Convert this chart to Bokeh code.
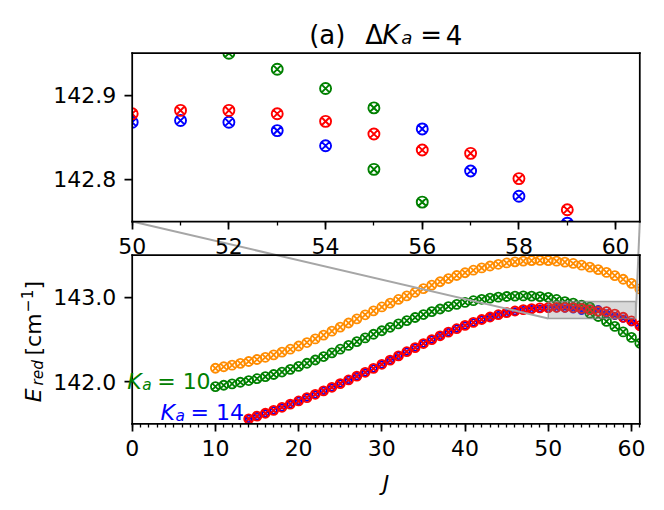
import math
import numpy as np
from bokeh.plotting import figure
from bokeh.models import (Range1d, FixedTicker, LinearAxis, NumeralTickFormatter, Label)
from bokeh.embed import file_html
from bokeh.resources import INLINE

# ---------------- data ----------------
J_orange = list(range(10, 62))
E_orange = [142.159, 142.177, 142.196, 142.217, 142.239, 142.263, 142.289, 142.318, 142.350, 142.385,
            142.423, 142.464, 142.507, 142.552, 142.599, 142.647, 142.696, 142.745, 142.793, 142.840,
            142.886, 142.931, 142.975, 143.017, 143.060, 143.103, 143.145, 143.185, 143.223, 143.259,
            143.292, 143.322, 143.349, 143.372, 143.392, 143.408, 143.421, 143.430, 143.436, 143.438,
            143.436, 143.429, 143.418, 143.402, 143.382, 143.358, 143.329, 143.296, 143.258, 143.215,
            143.166, 143.100]

J_green = list(range(10, 56)) + [55] + list(range(56, 62))
E_green = [141.941, 141.957, 141.974, 141.993, 142.013, 142.035, 142.059, 142.085, 142.114, 142.146,
           142.181, 142.218, 142.257, 142.298, 142.341, 142.385, 142.430, 142.475, 142.519, 142.562,
           142.604, 142.645, 142.685, 142.724, 142.761, 142.796, 142.830, 142.862, 142.891, 142.917,
           142.940, 142.960, 142.977, 142.991, 143.002, 143.010, 143.015, 143.017, 143.015, 143.009,
           142.999, 142.975, 142.950, 142.931, 142.908, 142.885, 142.812, 142.773, 142.715, 142.655,
           142.590, 142.525, 142.455]

J_red = list(range(14, 62))
E_red = [141.558, 141.591, 141.625, 141.660, 141.696, 141.733, 141.771, 141.810, 141.850, 141.891,
         141.933, 141.976, 142.020, 142.065, 142.111, 142.158, 142.206, 142.255, 142.305, 142.355,
         142.404, 142.452, 142.499, 142.544, 142.587, 142.628, 142.667, 142.703, 142.737, 142.767,
         142.794, 142.818, 142.838, 142.855, 142.867, 142.875, 142.878, 142.882, 142.882, 142.878,
         142.869, 142.854, 142.835, 142.831, 142.801, 142.764, 142.722, 142.665]

J_blue = list(range(14, 55)) + list(range(56, 62))
E_blue = [141.558, 141.591, 141.625, 141.660, 141.696, 141.733, 141.771, 141.810, 141.850, 141.891,
          141.933, 141.976, 142.020, 142.065, 142.111, 142.158, 142.206, 142.255, 142.305, 142.355,
          142.404, 142.452, 142.499, 142.544, 142.587, 142.628, 142.667, 142.703, 142.737, 142.767,
          142.790, 142.812, 142.832, 142.848, 142.859, 142.865, 142.868, 142.870, 142.868, 142.858,
          142.840, 142.860, 142.810, 142.780, 142.748, 142.705, 142.650]

main_xticks = [0, 10, 20, 30, 40, 50, 60]
main_xminor = list(range(0, 62))
main_yticks = [142.0, 143.0]
inset_xticks = [50, 52, 54, 56, 58, 60]
inset_xminor = list(range(50, 61))
inset_yticks = [142.8, 142.9]

XM = (0.0, 61.0)        # main J range
YM = (141.5, 143.5)     # main E range
XI = (50.0, 60.5)       # inset J range
YI = (142.75, 142.95)   # inset E range

# ---------------- style / layout (canvas pixels) ----------------
ORANGE, GREEN, BLUE, RED = "#ff8c00", "#008000", "#0000ff", "#ff0000"
FONT = "DejaVu Sans"
CW, CH = 664, 510
PX0, PX1 = 131.7, 639.3          # panel left / right
IY_TOP, IY_BOT = 52.7, 221.0     # inset top / bottom
MY_TOP, MY_BOT = 254.7, 423.3    # main top / bottom
TXT_FIX = 5.0                    # label baseline correction (px)

kx_m = (XM[1] - XM[0]) / (PX1 - PX0)
kx_i = (XI[1] - XI[0]) / (PX1 - PX0)
ky_m = (YM[1] - YM[0]) / (MY_BOT - MY_TOP)
ky_i = (YI[1] - YI[0]) / (IY_BOT - IY_TOP)
x_main = Range1d(XM[0] - PX0 * kx_m, XM[1] + (CW - PX1) * kx_m)
x_ins = Range1d(XI[0] - PX0 * kx_i, XI[1] + (CW - PX1) * kx_i)
y_main = Range1d(YM[0] - (CH - MY_BOT) * ky_m, YM[1] + MY_TOP * ky_m)
y_ins = Range1d(YI[0] - (CH - IY_BOT) * ky_i, YI[1] + IY_TOP * ky_i)


def px2mx(px):
    return x_main.start + px * kx_m


def py2my(py):
    return y_main.end - py * ky_m


def ix2m(x):
    return px2mx(PX0 + (x - XI[0]) / kx_i)


def iy2m(y):
    return py2my(IY_TOP + (YI[1] - y) / ky_i)


p = figure(width=CW, height=CH, x_range=x_main, y_range=y_main,
           output_backend="svg", toolbar_location=None,
           x_axis_location=None, y_axis_location=None,
           min_border_left=0, min_border_right=0, min_border_top=0, min_border_bottom=0)
p.extra_x_ranges = {"ix": x_ins}
p.extra_y_ranges = {"iy": y_ins}
p.grid.visible = False
p.outline_line_color = None
p.background_fill_color = "white"
p.border_fill_color = "white"
p.title.visible = False

# main panel markers
for J, E, c, s in [(J_orange, E_orange, ORANGE, 9), (J_green, E_green, GREEN, 9),
                   (J_blue, E_blue, BLUE, 6.5), (J_red, E_red, RED, 9)]:
    p.scatter(J, E, marker="circle_x", size=s, line_color=c, fill_color=None, line_width=1.8)

# inset markers (same data, inset window only)
for J, E, c in [(J_orange, E_orange, ORANGE), (J_green, E_green, GREEN),
                (J_blue, E_blue, BLUE), (J_red, E_red, RED)]:
    Ja, Ea = np.array(J, dtype=float), np.array(E, dtype=float)
    m = (Ja >= XI[0]) & (Ea >= YI[0] - 0.007) & (Ea <= YI[1] + 0.007)
    p.scatter(Ja[m], Ea[m], marker="circle_x", size=11, line_color=c, fill_color=None,
              line_width=1.9, x_range_name="ix", y_range_name="iy")

# white masks outside the two panels
yi_lo_m, yi_hi_m = iy2m(YI[0]), iy2m(YI[1])
p.quad(left=[x_main.start, XM[1], XM[0], XM[0], XM[0]],
       right=[XM[0], x_main.end, XM[1], XM[1], XM[1]],
       bottom=[y_main.start, y_main.start, yi_hi_m, YM[1], y_main.start],
       top=[y_main.end, y_main.end, y_main.end, yi_lo_m, YM[0]],
       fill_color="white", line_color=None)

# zoom rectangle and connectors
p.quad(left=[XI[0]], right=[XI[1]], bottom=[YI[0]], top=[YI[1]], fill_color="#808080", fill_alpha=0.3,
       line_color="#808080", line_alpha=0.7, line_width=1.5)
p.segment(x0=[ix2m(XI[0]), ix2m(XI[1])], y0=[yi_lo_m, yi_lo_m], x1=[XI[0], XI[1]], y1=[YI[0], YI[0]],
          line_color="#a6a6a6", line_width=2)

# panel frames
for (x0, x1, y0, y1) in [(XM[0], XM[1], YM[0], YM[1]), (XM[0], XM[1], yi_lo_m, yi_hi_m)]:
    p.segment(x0=[x0, x1, x0, x0], y0=[y0, y0, y0, y1], x1=[x0, x1, x1, x1], y1=[y1, y1, y0, y1],
              line_color="black", line_width=1.75, line_cap="square")


def style_axis(ax):
    ax.axis_line_color = None
    ax.major_tick_out, ax.major_tick_in = 8, 0
    ax.minor_tick_out, ax.minor_tick_in = 4, 0
    ax.major_tick_line_width, ax.minor_tick_line_width = 1.75, 1.3
    ax.major_tick_line_color = "black"
    ax.minor_tick_line_color = "black"
    ax.major_label_text_font = FONT
    ax.major_label_text_font_size = "22px"
    ax.major_label_text_color = "black"


ax_mx = LinearAxis(ticker=FixedTicker(ticks=main_xticks, minor_ticks=main_xminor), fixed_location=YM[0])
ax_ix = LinearAxis(ticker=FixedTicker(ticks=inset_xticks, minor_ticks=inset_xminor),
                   x_range_name="ix", y_range_name="iy", fixed_location=YI[0])
ax_my = LinearAxis(ticker=FixedTicker(ticks=main_yticks, minor_ticks=[]),
                   formatter=NumeralTickFormatter(format="0.0"), fixed_location=XM[0])
ax_iy = LinearAxis(ticker=FixedTicker(ticks=inset_yticks, minor_ticks=[]),
                   formatter=NumeralTickFormatter(format="0.0"),
                   x_range_name="ix", y_range_name="iy", fixed_location=XI[0])
for ax in (ax_mx, ax_ix):
    style_axis(ax)
    ax.major_label_standoff = 8
    p.add_layout(ax, "below")
for ax in (ax_my, ax_iy):
    style_axis(ax)
    ax.major_label_standoff = 8
    p.add_layout(ax, "left")


def add_text(txt, px, py, size, color="black", style="normal", angle=0.0, align="left"):
    if angle:
        px -= TXT_FIX
    else:
        py -= TXT_FIX
    p.add_layout(Label(x=px2mx(px), y=py2my(py), text=txt, text_font=FONT,
                       text_font_size="%.1fpx" % size, text_color=color, text_font_style=style,
                       text_align=align, text_baseline="alphabetic", angle=angle))


# title  (a)  ΔK_a = 4
add_text("(a)", 308.7, 39, 26)
add_text("Δ", 364.7, 39, 26)
add_text("K", 381.7, 39, 26, style="italic")
add_text("a", 400.8, 42, 18.2, style="italic")
add_text("=", 419.8, 39, 26)
add_text("4", 445.3, 39, 26)

# x label
add_text("J", 385.5, 487.5, 22, style="italic", align="center")

# y label  E_red [cm^-1]
R = math.pi / 2
add_text("E", 37.5, 401.7, 22, style="italic", angle=R)
add_text("red", 42.0, 385.0, 15.4, style="italic", angle=R)
add_text("[cm", 37.5, 355.0, 22, angle=R)
add_text("−1", 31.5, 311.7, 15.4, angle=R)
add_text("]", 37.5, 289.0, 22, angle=R)

# K_a labels
add_text("K", 126.7, 385.5, 22, GREEN, "italic")
add_text("a", 141.7, 389.5, 15.4, GREEN, "italic")
add_text("= 10", 156.7, 385.5, 22, GREEN)
add_text("K", 160.0, 416.7, 22, BLUE, "italic")
add_text("a", 175.0, 420.7, 15.4, BLUE, "italic")
add_text("= 14", 190.0, 416.7, 22, BLUE)

open("out.html", "w").write(file_html(p, INLINE))
